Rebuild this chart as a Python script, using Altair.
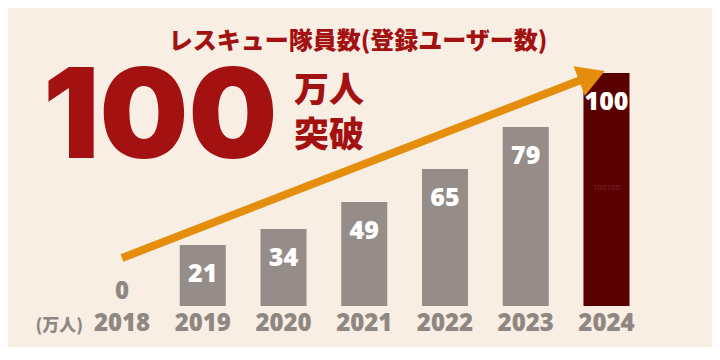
import altair as alt
import pandas as pd

years = ["2018", "2019", "2020", "2021", "2022", "2023", "2024"]
values = [0, 21, 34, 49, 65, 79, 100]
value_labels = ["0", "21", "34", "49", "65", "79", "100"]

title_text = "レスキュー隊員数(登録ユーザー数)"
big_number = "100"
big_unit = ["万人", "突破"]
unit_note = "(万人)"
faint_note = "100100"

df = pd.DataFrame({"year": years, "value": values, "label": value_labels})

BG = "#F8EEE4"
RED = "#A31111"
GRAY = "#968D88"
DARK = "#5A0000"
ORANGE = "#E58E0E"
W, H = 704, 298
CJK = '"Noto Sans CJK JP Black", "Noto Sans CJK JP"'

# piecewise scale reproduces the designer's bar heights
y_scale = alt.Scale(domain=[0, 21, 34, 49, 65, 79, 100],
                    range=[H, H - 61, H - 77, H - 104, H - 137, H - 179, H - 233])
x_scale = alt.Scale(domain=years, range=[91, 621.5], paddingInner=0.43, paddingOuter=0)

x_enc = alt.X("year:N", scale=x_scale,
              axis=alt.Axis(title=None, domain=False, ticks=False, labelAngle=0,
                            labelFontSize=24, labelFont="Open Sans", labelFontWeight=800,
                            labelColor="#8F8782", labelPadding=5, grid=False))
y_enc = alt.Y("value:Q", scale=y_scale, axis=None)

base = alt.Chart(df)

bars = base.mark_bar().encode(
    x=x_enc, y=y_enc,
    color=alt.condition(alt.datum.year == "2024", alt.value(DARK), alt.value(GRAY)),
)

labels = base.transform_filter(alt.datum.value > 0).mark_text(
    font="Open Sans", fontWeight=800, fontSize=25, color="white", baseline="middle", dy=29
).encode(x=x_enc, y=y_enc, text="label:N")

zero_label = base.transform_filter(alt.datum.value == 0).mark_text(
    font="Open Sans", fontWeight=800, fontSize=24, color="#8F8782", baseline="middle", dy=-14
).encode(x=x_enc, y=y_enc, text="label:N")

faint = base.transform_filter(alt.datum.year == "2024").mark_text(
    font="Open Sans", fontSize=8, color="#7A2A2A", baseline="middle"
).encode(x=x_enc, y=alt.value(180), text=alt.value(faint_note))

arrow_line = alt.Chart(pd.DataFrame({"a": [0]})).mark_rule(
    color=ORANGE, strokeWidth=8, strokeCap="butt"
).encode(x=alt.value(114), y=alt.value(250), x2=alt.value(578), y2=alt.value(70))

arrow_head = alt.Chart(pd.DataFrame({"a": [0]})).mark_point(
    shape="triangle-up", filled=True, color=ORANGE, opacity=1, size=1000, angle=69
).encode(x=alt.value(584), y=alt.value(68))

title = alt.Chart(pd.DataFrame({"t": [title_text]})).mark_text(
    font=CJK, fontWeight=900, fontSize=24, color=RED, baseline="middle"
).encode(x=alt.value(350), y=alt.value(34), text="t:N")

big = alt.Chart(pd.DataFrame({"t": [big_number]})).mark_text(
    font="Inter", fontWeight=900, fontSize=125, color=RED, align="left", baseline="alphabetic"
).encode(x=alt.value(35), y=alt.value(150), text="t:N")

unit1 = alt.Chart(pd.DataFrame({"t": [big_unit[0]]})).mark_text(
    font=CJK, fontWeight=900, fontSize=35, color=RED, align="left", baseline="middle"
).encode(x=alt.value(286), y=alt.value(83), text="t:N")

unit2 = alt.Chart(pd.DataFrame({"t": [big_unit[1]]})).mark_text(
    font=CJK, fontWeight=900, fontSize=35, color=RED, align="left", baseline="middle"
).encode(x=alt.value(286), y=alt.value(128), text="t:N")

note = alt.Chart(pd.DataFrame({"t": [unit_note]})).mark_text(
    font=CJK, fontWeight=900, fontSize=17, color="#8F8782", align="right", baseline="middle"
).encode(x=alt.value(75), y=alt.value(318), text="t:N")

chart = alt.layer(bars, labels, zero_label, faint, arrow_line, arrow_head, title, big, unit1, unit2, note).properties(
    width=W, height=H, padding={"left": 0, "top": 0, "right": 0, "bottom": 12}, background=BG
).configure_view(stroke=None)

chart.save("out.html", embed_options={"renderer": "svg", "actions": False})
